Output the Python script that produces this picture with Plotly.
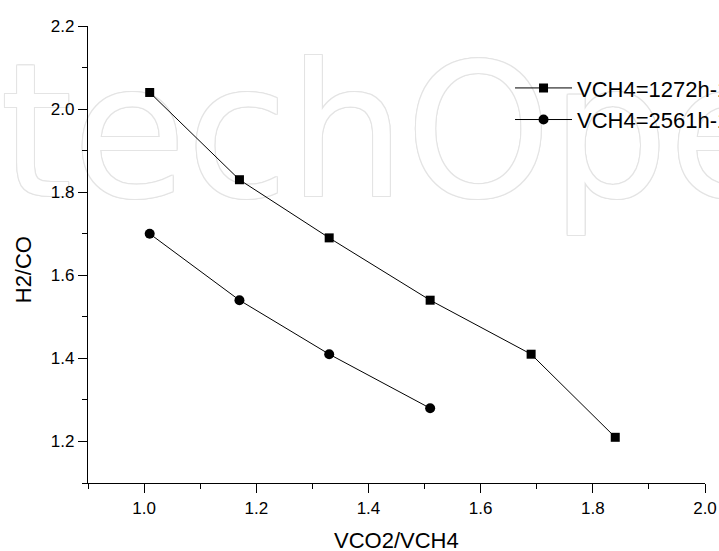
import plotly.graph_objects as go

# H2/CO ratio versus CO2/CH4 feed ratio at two CH4 space velocities
vco2_vch4_1272 = [1.01, 1.17, 1.33, 1.51, 1.69, 1.84]
h2_co_1272 = [2.04, 1.83, 1.69, 1.54, 1.41, 1.21]
vco2_vch4_2561 = [1.01, 1.17, 1.33, 1.51]
h2_co_2561 = [1.70, 1.54, 1.41, 1.28]
series_names = ["VCH4=1272h-1", "VCH4=2561h-1"]

x_ticks = [1.0, 1.2, 1.4, 1.6, 1.8, 2.0]
y_ticks = [1.2, 1.4, 1.6, 1.8, 2.0, 2.2]

FONT = "Liberation Sans, Arial, sans-serif"
OUTLINE = "#e4e4e4"
shadow = ", ".join(
    f"{dx}px {dy}px 0px {OUTLINE}"
    for dx, dy in [(1, 0), (-1, 0), (0, 1), (0, -1), (1, 1), (-1, -1), (1, -1), (-1, 1)]
)

fig = go.Figure()

# faint outlined watermark lettering behind the data
fig.add_trace(go.Scatter(
    x=[1.545], y=[1.902], mode="text", text=["techOpen"],
    textposition="middle center",
    textfont=dict(family="DejaVu Sans", size=185, color="white", shadow=shadow),
    cliponaxis=False, showlegend=False, hoverinfo="skip",
))

fig.add_trace(go.Scatter(
    x=vco2_vch4_1272, y=h2_co_1272, mode="lines+markers", name=series_names[0],
    line=dict(color="black", width=1),
    marker=dict(symbol="square", size=9, color="black"),
))
fig.add_trace(go.Scatter(
    x=vco2_vch4_2561, y=h2_co_2561, mode="lines+markers", name=series_names[1],
    line=dict(color="black", width=1),
    marker=dict(symbol="circle", size=10, color="black"),
))

axis_common = dict(
    showline=True, linecolor="black", linewidth=1.3,
    ticks="outside", ticklen=9, tickwidth=1.3, tickcolor="black",
    showgrid=False, zeroline=False, mirror=False,
    tickfont=dict(family=FONT, size=17, color="black"),
    tickformat=".1f",
    minor=dict(ticks="outside", ticklen=5, tickwidth=1.3, tickcolor="black", dtick=0.1),
)

fig.update_layout(
    width=719, height=551,
    margin=dict(l=88, r=14, t=26, b=68, autoexpand=False),
    paper_bgcolor="white", plot_bgcolor="white",
    font=dict(family=FONT, color="black"),
    xaxis=dict(range=[0.9, 2.0], tickvals=x_ticks, **axis_common),
    yaxis=dict(range=[1.1, 2.2], tickvals=y_ticks, **axis_common),
    legend=dict(
        x=0.684, y=0.91, xanchor="left", yanchor="top",
        font=dict(family=FONT, size=22, color="black"),
        bgcolor="rgba(0,0,0,0)", borderwidth=0,
        itemwidth=57, tracegroupgap=0,
    ),
    annotations=[
        dict(text="VCO2/VCH4", xref="paper", yref="paper", x=0.5, y=-0.125,
             xanchor="center", yanchor="middle", showarrow=False,
             font=dict(family=FONT, size=22, color="black")),
        dict(text="H2/CO", xref="paper", yref="paper", x=-0.105, y=0.466,
             xanchor="center", yanchor="middle", textangle=-90, showarrow=False,
             font=dict(family=FONT, size=22, color="black")),
    ],
)

fig.write_html("out.html")
